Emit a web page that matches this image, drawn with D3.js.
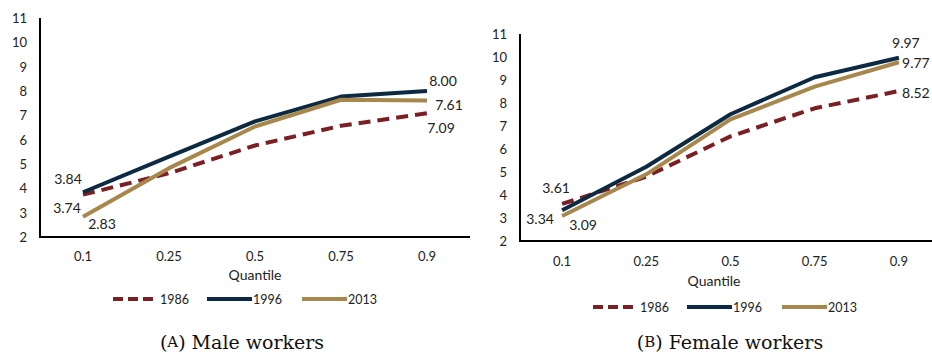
<!DOCTYPE html>
<html>
<head>
<meta charset="utf-8">
<script src="https://cdn.jsdelivr.net/npm/d3@7"></script>
<style>
  html, body { margin: 0; padding: 0; background: #fff; }
  svg { display: block; }
</style>
</head>
<body>
<svg id="chart" width="932" height="352"></svg>
<script>
// Wage quantiles by year, male and female workers
const quantiles = ["0.1", "0.25", "0.5", "0.75", "0.9"];
const years = ["1986", "1996", "2013"];
const yTicks = [2, 3, 4, 5, 6, 7, 8, 9, 10, 11];

const male1986 = [3.74, 4.62, 5.76, 6.57, 7.09];
const male1996 = [3.84, 5.30, 6.75, 7.77, 8.00];
const male2013 = [2.83, 4.83, 6.54, 7.64, 7.61];

const female1986 = [3.61, 4.80, 6.55, 7.77, 8.52];
const female1996 = [3.34, 5.23, 7.51, 9.12, 9.97];
const female2013 = [3.09, 4.90, 7.29, 8.71, 9.77];

const colors = { "1986": "#7a2025", "1996": "#0c2a42", "2013": "#a8874d" };
const dashes = { "1986": "12,7", "1996": null, "2013": null };

const svg = d3.select("#chart");
const sans = "Lato, 'Open Sans', sans-serif";

const panels = [
  {
    series: { "1986": male1986, "1996": male1996, "2013": male2013 },
    x0: 40, x1: 470, yTop: 18, yBottom: 237,
    yLabelX: 27, xLabelY: 256, titleY: 274, legendY: 299, legendX: 113,
    caption: ["A", " Male workers"], captionX: 242,
    // value labels: [year, index, dx, dy]
    labels: [["1996", 0, -15, -14], ["1986", 0, -16, 13], ["2013", 0, 19, 7],
             ["1996", 4, 16, -11], ["2013", 4, 22, 4], ["1986", 4, 14, 14]]
  },
  {
    series: { "1986": female1986, "1996": female1996, "2013": female2013 },
    x0: 520, x1: 941, yTop: 34, yBottom: 241,
    yLabelX: 507, xLabelY: 261, titleY: 280, legendY: 307, legendX: 593,
    caption: ["B", " Female workers"], captionX: 730,
    labels: [["1986", 0, -6, -16], ["1996", 0, -22, 8], ["2013", 0, 21, 9],
             ["1996", 4, 7, -15], ["2013", 4, 17, 0], ["1986", 4, 17, 1]]
  }
];

panels.forEach(p => {
  const g = svg.append("g");
  const x = d3.scaleBand().domain(quantiles).range([p.x0, p.x1]);
  const y = d3.scaleLinear().domain([2, 11]).range([p.yBottom, p.yTop]);
  const cx = q => x(q) + x.bandwidth() / 2;

  // y tick labels
  g.selectAll(".yt").data(yTicks).join("text")
    .attr("x", p.yLabelX).attr("y", d => y(d))
    .attr("text-anchor", "end").attr("dominant-baseline", "central")
    .attr("font-family", sans).attr("font-size", 13).attr("fill", "#222")
    .text(d => d);

  // x tick labels
  g.selectAll(".xt").data(quantiles).join("text")
    .attr("x", d => cx(d)).attr("y", p.xLabelY)
    .attr("text-anchor", "middle").attr("dominant-baseline", "central")
    .attr("font-family", sans).attr("font-size", 13).attr("fill", "#222")
    .text(d => d);

  g.append("text")
    .attr("x", (p.x0 + Math.min(p.x1, 932)) / 2 + (p === panels[0] ? 0 : -12))
    .attr("y", p.titleY)
    .attr("text-anchor", "middle").attr("dominant-baseline", "central")
    .attr("font-family", sans).attr("font-size", 14).attr("fill", "#222")
    .text("Quantile");

  // series lines
  const line = d3.line().x((d, i) => cx(quantiles[i])).y(d => y(d));
  years.forEach(yr => {
    g.append("path")
      .attr("d", line(p.series[yr]))
      .attr("fill", "none")
      .attr("stroke", colors[yr])
      .attr("stroke-width", 4)
      .attr("stroke-linejoin", "round")
      .attr("stroke-dasharray", dashes[yr]);
  });

  // axes lines
  g.append("line").attr("x1", p.x0).attr("x2", p.x0)
    .attr("y1", p.yTop).attr("y2", p.yBottom + 1)
    .attr("stroke", "#000").attr("stroke-width", 2);
  g.append("line").attr("x1", p.x0 - 1).attr("x2", p.x1)
    .attr("y1", p.yBottom).attr("y2", p.yBottom)
    .attr("stroke", "#000").attr("stroke-width", 2);

  // value labels
  p.labels.forEach(([yr, i, dx, dy]) => {
    const v = p.series[yr][i];
    g.append("text")
      .attr("x", cx(quantiles[i]) + dx).attr("y", y(v) + dy)
      .attr("text-anchor", "middle").attr("dominant-baseline", "central")
      .attr("font-family", sans).attr("font-size", 14).attr("fill", "#222")
      .text(v.toFixed(2));
  });

  // legend
  const lg = g.append("g").attr("transform", `translate(${p.legendX},${p.legendY})`);
  const items = [
    { yr: "1986", lx0: 0, lx1: 40, tx: 47 },
    { yr: "1996", lx0: 94, lx1: 139, tx: 140 },
    { yr: "2013", lx0: 189, lx1: 234, tx: 235 }
  ];
  items.forEach(it => {
    lg.append("line")
      .attr("x1", it.lx0).attr("x2", it.lx1).attr("y1", 0).attr("y2", 0)
      .attr("stroke", colors[it.yr]).attr("stroke-width", 4)
      .attr("stroke-dasharray", it.yr === "1986" ? "10,5" : null);
    lg.append("text")
      .attr("x", it.tx).attr("y", 0)
      .attr("dominant-baseline", "central")
      .attr("font-family", sans).attr("font-size", 12.5).attr("fill", "#222")
      .text(it.yr);
  });

  // caption
  const cap = svg.append("text")
    .attr("x", p.captionX).attr("y", 342)
    .attr("text-anchor", "middle").attr("dominant-baseline", "central")
    .attr("font-family", "'DejaVu Serif', 'Liberation Serif', serif")
    .attr("font-size", 19).attr("fill", "#111");
  cap.append("tspan").text("(");
  cap.append("tspan").attr("font-size", 15).text(p.caption[0]);
  cap.append("tspan").text(")" + p.caption[1]);
});
</script>
</body>
</html>
